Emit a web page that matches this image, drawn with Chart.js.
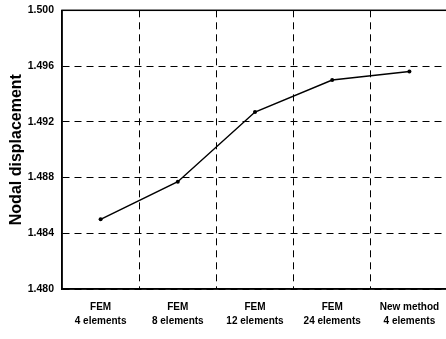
<!DOCTYPE html>
<html>
<head>
<meta charset="utf-8">
<script src="https://cdn.jsdelivr.net/npm/chart.js@4/dist/chart.umd.min.js"></script>
<style>
  html, body { margin: 0; padding: 0; background: #fff; overflow: hidden; }
  #wrap { width: 452px; height: 343px; margin-top: -4px; }
</style>
</head>
<body>
<div id="wrap"><canvas id="chart" width="452" height="343"></canvas></div>
<script>
// --- data ---
const methods = [
    ["FEM", "4 elements"],
    ["FEM", "8 elements"],
    ["FEM", "12 elements"],
    ["FEM", "24 elements"],
    ["New method", "4 elements"]
];
const nodalDisp = [1.4850, 1.4877, 1.4927, 1.4950, 1.4956];
const yTicks = [1.480, 1.484, 1.488, 1.492, 1.496, 1.500];

const font = "'Liberation Sans', Arial, sans-serif";

// solid frame round the plot area (top edge; right edge falls off canvas)
const frame = {
    id: "frame",
    afterDraw(chart) {
        const a = chart.chartArea;
        const ctx = chart.ctx;
        ctx.save();
        ctx.strokeStyle = "#000";
        ctx.lineWidth = 1.5;
        ctx.strokeRect(a.left, a.top, a.right - a.left, a.bottom - a.top);
        ctx.restore();
    }
};

new Chart(document.getElementById("chart"), {
    type: "line",
    data: {
        labels: methods,
        datasets: [{
            data: nodalDisp,
            borderColor: "#000",
            backgroundColor: "#000",
            borderWidth: 1.5,
            pointRadius: 2,
            pointBorderWidth: 0,
            tension: 0
        }]
    },
    options: {
        responsive: false,
        animation: false,
        layout: { padding: { top: 3, left: 7, right: 2, bottom: 0 } },
        plugins: { legend: { display: false }, tooltip: { enabled: false } },
        scales: {
            x: {
                offset: true,
                grid: { offset: true, color: "#000", lineWidth: 1, drawTicks: false },
                border: { display: true, color: "#000", width: 1.5, dash: [7, 5] },
                ticks: {
                    color: "#000",
                    padding: 11,
                    maxRotation: 0,
                    autoSkip: false,
                    font: { family: font, size: 10, weight: "bold", lineHeight: 1.4 }
                },
                afterFit(scale) { scale.height = 50; }
            },
            y: {
                min: 1.480,
                max: 1.500,
                afterBuildTicks(scale) { scale.ticks = yTicks.map(v => ({ value: v })); },
                grid: { color: "#000", lineWidth: 1, drawTicks: false },
                border: { display: true, color: "#000", width: 1.5, dash: [7, 5] },
                ticks: {
                    color: "#000",
                    padding: 8,
                    callback: v => v.toFixed(3),
                    font: { family: font, size: 10.5, weight: "bold" }
                },
                title: {
                    display: true,
                    text: "Nodal displacement",
                    color: "#000",
                    padding: 0,
                    font: { family: font, size: 16, weight: "bold" }
                },
                afterFit(scale) { scale.width = 55; }
            }
        }
    },
    plugins: [frame]
});
</script>
</body>
</html>
